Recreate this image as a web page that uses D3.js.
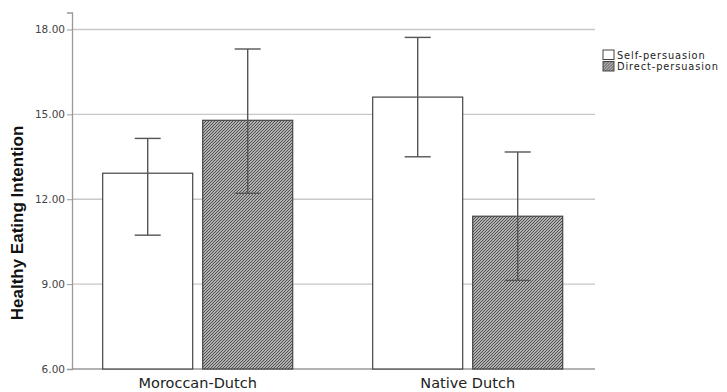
<!DOCTYPE html>
<html>
<head>
<meta charset="utf-8">
<script src="https://cdn.jsdelivr.net/npm/d3@7"></script>
<style>
  body { margin: 0; background: #fff; }
  text { font-family: "DejaVu Sans", sans-serif; }
</style>
</head>
<body>
<svg id="chart" width="727" height="392"></svg>
<script>
// Data
var groups = ["Moroccan-Dutch", "Native Dutch"];
var conditions = ["Self-persuasion", "Direct-persuasion"];
var means = [[12.92, 14.79], [15.61, 11.40]];
var lower = [[10.73, 12.21], [13.50, 9.13]];
var upper = [[14.15, 17.31], [17.72, 13.67]];
var yTicks = [6, 9, 12, 15, 18];

var svg = d3.select("#chart");

// Hatch pattern for the direct-persuasion bars
var pat = svg.append("defs")
  .append("pattern")
    .attr("id", "hatch")
    .attr("patternUnits", "userSpaceOnUse")
    .attr("width", 3)
    .attr("height", 3);
pat.append("rect").attr("width", 3).attr("height", 3).attr("fill", "#fff");
pat.append("path")
    .attr("d", "M-1,1 L1,-1 M0,3 L3,0 M2,4 L4,2")
    .attr("stroke", "#505050")
    .attr("stroke-width", 1.3);

// Scales
var axisLeftX = 72, gridRight = 595;

var y = d3.scaleLinear()
          .domain([6, 18.6])
          .range([369, 12.5]);

var x0 = d3.scaleBand()
           .domain(groups)
           .range([102.7, 562.7])
           .paddingInner(80 / 270)
           .paddingOuter(0);

var x1 = d3.scaleBand()
           .domain(conditions)
           .range([0, x0.bandwidth()])
           .paddingInner(0.1);

// Gridlines
svg.selectAll(".grid")
  .data(yTicks.slice(1))
  .enter().append("line")
    .attr("x1", axisLeftX)
    .attr("x2", gridRight)
    .attr("y1", d => y(d))
    .attr("y2", d => y(d))
    .attr("stroke", "#c8c8c8")
    .attr("stroke-width", 1.3);

// Y axis
var yAxis = d3.axisLeft(y)
  .tickValues(yTicks)
  .tickFormat(d3.format(".2f"))
  .tickSize(5)
  .tickPadding(2);

var gy = svg.append("g")
    .attr("transform", "translate(" + axisLeftX + ",0)")
    .call(yAxis);
gy.select(".domain").attr("stroke", "#999").attr("stroke-width", 1.3);
gy.selectAll(".tick line").attr("stroke", "#999");
gy.selectAll(".tick text")
    .attr("fill", "#444")
    .style("font-size", "10.5px");

// Baseline
svg.append("line")
    .attr("x1", axisLeftX)
    .attr("x2", gridRight)
    .attr("y1", y(6))
    .attr("y2", y(6))
    .attr("stroke", "#999")
    .attr("stroke-width", 1.3);

// Flatten data for bars
var rows = [];
groups.forEach(function(g, i) {
  conditions.forEach(function(c, j) {
    rows.push({group: g, cond: c, j: j, mean: means[i][j], lo: lower[i][j], hi: upper[i][j]});
  });
});

// Bars
svg.selectAll(".bar")
  .data(rows)
  .enter().append("rect")
    .attr("x", d => x0(d.group) + x1(d.cond))
    .attr("width", x1.bandwidth())
    .attr("y", d => y(d.mean))
    .attr("height", d => y(6) - y(d.mean))
    .attr("fill", d => d.j === 0 ? "#fff" : "url(#hatch)")
    .attr("stroke", "#444")
    .attr("stroke-width", 1.2);

// Error bars
var err = svg.selectAll(".err")
  .data(rows)
  .enter().append("g")
    .attr("transform", d => "translate(" + (x0(d.group) + x1(d.cond) + x1.bandwidth() / 2) + ",0)")
    .attr("stroke", "#555")
    .attr("stroke-width", 1.4);
err.append("line").attr("y1", d => y(d.lo)).attr("y2", d => y(d.hi));
err.append("line").attr("x1", -13).attr("x2", 13).attr("y1", d => y(d.hi)).attr("y2", d => y(d.hi));
err.append("line").attr("x1", -13).attr("x2", 13).attr("y1", d => y(d.lo)).attr("y2", d => y(d.lo));

// Category labels
svg.selectAll(".cat")
  .data(groups)
  .enter().append("text")
    .attr("x", d => x0(d) + x0.bandwidth() / 2)
    .attr("y", 388)
    .attr("text-anchor", "middle")
    .attr("fill", "#222")
    .style("font-size", "14.5px")
    .text(d => d);

// Y title
svg.append("text")
    .attr("transform", "translate(23,223) rotate(-90)")
    .attr("text-anchor", "middle")
    .attr("fill", "#111")
    .style("font-family", "'Liberation Sans', Arial, sans-serif")
    .style("font-size", "17px")
    .style("font-weight", "bold")
    .text("Healthy Eating Intention");

// Legend
var legend = svg.selectAll(".legend")
  .data(conditions)
  .enter().append("g")
    .attr("transform", (d, i) => "translate(603," + (50 + i * 11.5) + ")");
legend.append("rect")
    .attr("width", 11)
    .attr("height", 9.5)
    .attr("fill", (d, i) => i === 0 ? "#fff" : "url(#hatch)")
    .attr("stroke", "#444")
    .attr("stroke-width", 1);
legend.append("text")
    .attr("x", 14)
    .attr("y", 8.5)
    .attr("fill", "#222")
    .style("font-size", "9.8px")
    .style("letter-spacing", "0.9px")
    .text(d => d);
</script>
</body>
</html>
